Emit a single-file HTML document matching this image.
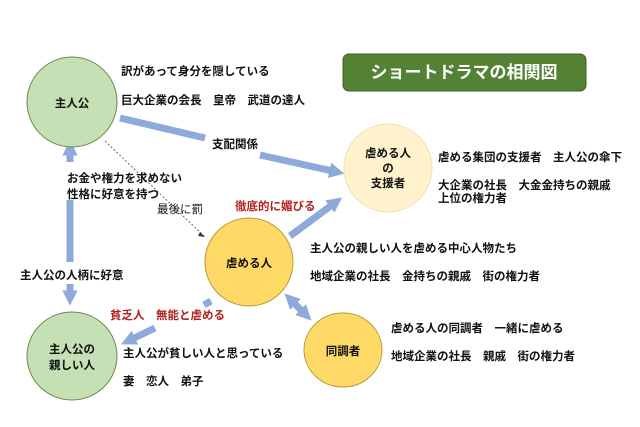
<!DOCTYPE html>
<html><head><meta charset="utf-8"><style>
html,body{margin:0;padding:0;background:#fff;}
svg{display:block;}
text{font-family:"Liberation Sans","Noto Sans CJK JP",sans-serif;font-size:11.5px;fill:#111;font-weight:bold;}
.r{fill:#b22222;}
</style></head><body>
<svg width="640" height="427" viewBox="0 0 640 427">
<defs>
<marker id="ah" markerWidth="2.2" markerHeight="2.2" refX="1.1" refY="1.1" orient="auto" markerUnits="strokeWidth"><path d="M0,0 L2.2,1.1 L0,2.2 z" fill="#8eaadb"/></marker>
<marker id="ahs" markerWidth="2.2" markerHeight="2.2" refX="1.1" refY="1.1" orient="auto-start-reverse" markerUnits="strokeWidth"><path d="M0,0 L2.2,1.1 L0,2.2 z" fill="#8eaadb"/></marker>
</defs>
<rect width="640" height="427" fill="#fff"/>
<g stroke="#8eaadb" stroke-width="7" fill="none">
<line x1="120" y1="118" x2="205" y2="138"/>
<line x1="260" y1="155" x2="337" y2="172" marker-end="url(#ah)"/>
<line x1="290" y1="236" x2="336" y2="202" marker-end="url(#ah)"/>
<line x1="70" y1="162" x2="70" y2="148" marker-end="url(#ah)"/>
<line x1="70" y1="200" x2="70" y2="262"/>
<line x1="70" y1="284" x2="70" y2="298" marker-end="url(#ah)"/>
<line x1="211" y1="301" x2="204" y2="305"/>
<line x1="155" y1="328" x2="128" y2="341" marker-end="url(#ah)"/>
<line x1="290" y1="299" x2="306" y2="315" marker-start="url(#ahs)" marker-end="url(#ahs)"/>
</g>
<path d="M105,141 L204,236" stroke="#445" stroke-width="0.8" stroke-dasharray="2,2" fill="none"/>
<path d="M200,232 L205,237 L198,236 z" fill="#335"/>
<circle cx="72" cy="102" r="45" fill="#c5e0b4" stroke="#6a8a50" stroke-width="1"/>
<ellipse cx="72" cy="356" rx="45" ry="44" fill="#c5e0b4" stroke="#6a8a50" stroke-width="1"/>
<circle cx="388" cy="168" r="44" fill="#fff2cc" stroke="#f2e3b0" stroke-width="1"/>
<circle cx="249" cy="262" r="44" fill="#ffd966" stroke="#b89a3a" stroke-width="1"/>
<ellipse cx="343" cy="350" rx="39" ry="37" fill="#ffd966" stroke="#b89a3a" stroke-width="1"/>
<rect x="343" y="54" width="243" height="37" rx="6" fill="#548235" stroke="#3d6127"/>
<text x="464" y="78" text-anchor="middle" style="fill:#fff;font-size:17px">ショートドラマの相関図</text>
<text x="72" y="107" text-anchor="middle">主人公</text>
<text x="72" y="353" text-anchor="middle">主人公の</text>
<text x="72" y="369" text-anchor="middle">親しい人</text>
<text x="388" y="157" text-anchor="middle">虐める人</text>
<text x="388" y="172" text-anchor="middle">の</text>
<text x="388" y="187" text-anchor="middle">支援者</text>
<text x="249" y="267" text-anchor="middle">虐める人</text>
<text x="343" y="355" text-anchor="middle">同調者</text>
<text x="121" y="75">訳があって身分を隠している</text>
<text x="121" y="104">巨大企業の会長　皇帝　武道の達人</text>
<text x="212" y="148">支配関係</text>
<text x="67" y="182">お金や権力を求めない</text>
<text x="67" y="198">性格に好意を持つ</text>
<text x="157" y="213" style="font-weight:normal">最後に罰</text>
<text x="235" y="210" class="r">徹底的に媚びる</text>
<text x="438" y="161">虐める集団の支援者　主人公の傘下</text>
<text x="438" y="189">大企業の社長　大金金持ちの親戚</text>
<text x="438" y="202">上位の権力者</text>
<text x="310" y="252">主人公の親しい人を虐める中心人物たち</text>
<text x="310" y="280">地域企業の社長　金持ちの親戚　街の権力者</text>
<text x="20" y="279">主人公の人柄に好意</text>
<text x="110" y="319" class="r">貧乏人　無能と虐める</text>
<text x="123" y="357">主人公が貧しい人と思っている</text>
<text x="123" y="385">妻　恋人　弟子</text>
<text x="391" y="332">虐める人の同調者　一緒に虐める</text>
<text x="391" y="360">地域企業の社長　親戚　街の権力者</text>
</svg>
</body></html>
